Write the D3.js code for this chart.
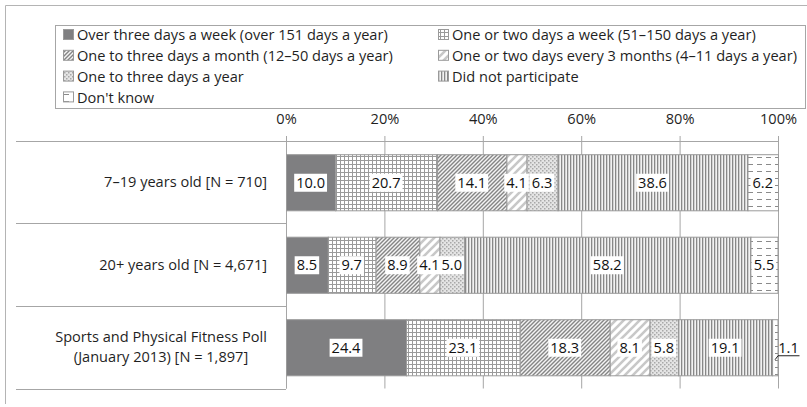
<!DOCTYPE html>
<html><head><meta charset="utf-8">
<script src="https://cdn.jsdelivr.net/npm/d3@7"></script>
<style>
html,body{margin:0;padding:0;background:#fff;}
svg{display:block;font-family:"Open Sans",sans-serif;}
</style></head>
<body><svg id="chart" width="807" height="407"></svg>
<script>
const categories = [
  ["7–19 years old [N = 710]"],
  ["20+ years old [N = 4,671]"],
  ["Sports and Physical Fitness Poll", "(January 2013) [N = 1,897]"]
];
const seriesNames = [
  "Over three days a week (over 151 days a year)",
  "One or two days a week (51–150 days a year)",
  "One to three days a month (12–50 days a year)",
  "One or two days every 3 months (4–11 days a year)",
  "One to three days a year",
  "Did not participate",
  "Don't know"
];
const row1 = [10.0, 20.7, 14.1, 4.1, 6.3, 38.6, 6.2];
const row2 = [8.5, 9.7, 8.9, 4.1, 5.0, 58.2, 5.5];
const row3 = [24.4, 23.1, 18.3, 8.1, 5.8, 19.1, 1.1];
const values = [row1, row2, row3];
const tickValues = [0, 20, 40, 60, 80, 100];

const svg = d3.select("#chart");
const FONT = "'Open Sans', sans-serif";
// fit font size so the first legend entry has the reference width (~311px)
const probe = svg.append("text").attr("font-family", FONT).attr("font-size", 16).text(seriesNames[0]);
const FS = Math.min(16, 16 * 311 / probe.node().getComputedTextLength());
probe.remove();
const gridColor = "#a6a6a6";
const edgeColor = "#9a9a9a";
const textColor = "#1f1f1f";

// patterns
const defs = svg.append("defs");
function pat(id, w, h, build){
  const p = defs.append("pattern").attr("id", id).attr("patternUnits","userSpaceOnUse")
    .attr("width", w).attr("height", h);
  build(p); return "url(#"+id+")";
}
const fills = [
  "#7f7f81",
  pat("p-grid", 4, 4, p => {
    p.append("rect").attr("width",4).attr("height",4).attr("fill","#fff");
    p.append("rect").attr("width",4).attr("height",1).attr("fill","#9a9a9a");
    p.append("rect").attr("width",1).attr("height",4).attr("fill","#9a9a9a");
  }),
  pat("p-ddiag", 4, 4, p => {
    p.append("rect").attr("width",4).attr("height",4).attr("fill","#f4f4f4");
    p.append("path").attr("d","M-1,1 L1,-1 M0,4 L4,0 M3,5 L5,3").attr("stroke","#858585").attr("stroke-width",1.4);
  }),
  pat("p-wdiag", 8, 8, p => {
    p.append("rect").attr("width",8).attr("height",8).attr("fill","#fff");
    p.append("path").attr("d","M-2,2 L2,-2 M0,8 L8,0 M6,10 L10,6").attr("stroke","#c8c8c8").attr("stroke-width",2.6);
  }),
  pat("p-dots", 4, 4, p => {
    p.append("rect").attr("width",4).attr("height",4).attr("fill","#e4e4e4");
    p.append("rect").attr("x",0).attr("y",0).attr("width",1.5).attr("height",1.5).attr("fill","#a8a8a8");
    p.append("rect").attr("x",2).attr("y",2).attr("width",1.5).attr("height",1.5).attr("fill","#a8a8a8");
  }),
  pat("p-vert", 3, 4, p => {
    p.append("rect").attr("width",3).attr("height",4).attr("fill","#f2f2f2");
    p.append("rect").attr("width",1.3).attr("height",4).attr("fill","#888");
  }),
  pat("p-dash", 9, 7, p => {
    p.append("rect").attr("width",9).attr("height",7).attr("fill","#fff");
    p.append("rect").attr("x",1).attr("y",3).attr("width",5).attr("height",1).attr("fill","#8a8a8a");
  })
];

svg.append("rect").attr("width",807).attr("height",407).attr("fill","#fff");
// outer frame (top & left)
svg.append("path").attr("d","M5.5,404 V5.5 H807").attr("fill","none").attr("stroke","#b4b4b4");

// legend
const lg = svg.append("g");
lg.append("rect").attr("x",55.5).attr("y",25.5).attr("width",750).attr("height",83)
  .attr("fill","#fff").attr("stroke","#a6a6a6");
const colX = [63, 438], rowY = [35, 55.8, 76.6, 97.4];
seriesNames.forEach((name, i) => {
  const cx = colX[i % 2], cy = rowY[Math.floor(i / 2)];
  lg.append("rect").attr("x", cx + 0.5).attr("y", cy - 5.5).attr("width", 10).attr("height", 10)
    .attr("fill", fills[i]).attr("stroke", edgeColor);
  lg.append("text").attr("x", cx + 14).attr("y", cy).attr("dy","0.35em")
    .attr("font-size", FS).attr("fill", textColor).text(name);
});

// scales
const x = d3.scaleLinear().domain([0,100]).range([286, 778]);
const y = d3.scaleBand().domain(d3.range(categories.length)).range([141, 388.5])
  .paddingInner(0.32).paddingOuter(0.16);

// gridlines + top axis
const xAxis = d3.axisTop(x).tickValues(tickValues).tickFormat(d => d + "%").tickSize(5).tickPadding(12);
const ax = svg.append("g").attr("transform","translate(0,141)").call(xAxis);
ax.select(".domain").remove();
ax.selectAll(".tick line").attr("stroke", gridColor).attr("y2", 388.5 - 141).attr("y1", -5);
ax.selectAll(".tick text").attr("font-size", FS).attr("font-family", FONT).attr("fill", textColor);

// category lines
const bounds = [141, ...d3.range(categories.length).map(i => y(i) + y.bandwidth() + y.step()*y.paddingInner()/2)];
bounds[bounds.length-1] = 388.5;
svg.append("g").selectAll("line").data(bounds).join("line")
  .attr("x1", 16).attr("x2", d => d === 141 ? 778 : 286)
  .attr("y1", d => Math.round(d) + 0.5).attr("y2", d => Math.round(d) + 0.5)
  .attr("stroke", gridColor);
svg.append("line").attr("x1",286.5).attr("x2",286.5).attr("y1",141).attr("y2",388.5).attr("stroke",gridColor);

// category labels
categories.forEach((lines, i) => {
  const cy = y(i) + y.bandwidth()/2;
  const t = svg.append("text").attr("font-size", FS).attr("fill", textColor);
  if (lines.length === 1) {
    t.attr("x", 267).attr("y", cy).attr("dy","0.35em").attr("text-anchor","end").text(lines[0]);
  } else {
    t.attr("text-anchor","middle");
    lines.forEach((l, k) => {
      t.append("tspan").attr("x", 161).attr("y", cy + (k - (lines.length-1)/2) * 20).attr("dy","0.35em").text(l);
    });
  }
});

// bars
values.forEach((row, i) => {
  let cum = 0;
  const g = svg.append("g");
  const segs = row.map((v, j) => { const s = {v, j, x0: cum, x1: cum + v}; cum += v; return s; });
  g.selectAll("rect").data(segs).join("rect")
    .attr("x", d => x(d.x0) + 0.5).attr("y", y(i) + 0.5)
    .attr("width", d => Math.max(0, x(d.x1) - x(d.x0)))
    .attr("height", y.bandwidth())
    .attr("fill", d => fills[d.j]).attr("stroke", edgeColor);
  const cy = y(i) + y.bandwidth()/2 + 0.5;
  segs.forEach(d => {
    const label = d.v.toFixed(1);
    const w = x(d.x1) - x(d.x0);
    const lgp = g.append("g");
    const t = lgp.append("text").attr("font-size", FS).attr("fill","#111").attr("text-anchor","middle").attr("dy","0.35em").text(label);
    const tw = t.node().getComputedTextLength();
    let lx = (x(d.x0) + x(d.x1))/2;
    if (w < 10) {
      // too thin: label outside with leader line
      const xe = x(d.x1);
      lx = xe + 11;
      lgp.append("path").attr("d", `M${xe-2.5},${cy+12} L${xe+0.5},${cy+8} H${xe+22}`)
        .attr("fill","none").attr("stroke","#222").attr("stroke-width",1);
      t.attr("x", lx).attr("y", cy);
    } else {
      lgp.insert("rect","text").attr("x", lx - tw/2 - 2).attr("y", cy - 9).attr("width", tw + 4).attr("height", 18).attr("fill","#fff");
      t.attr("x", lx).attr("y", cy);
    }
  });
});
</script></body></html>
